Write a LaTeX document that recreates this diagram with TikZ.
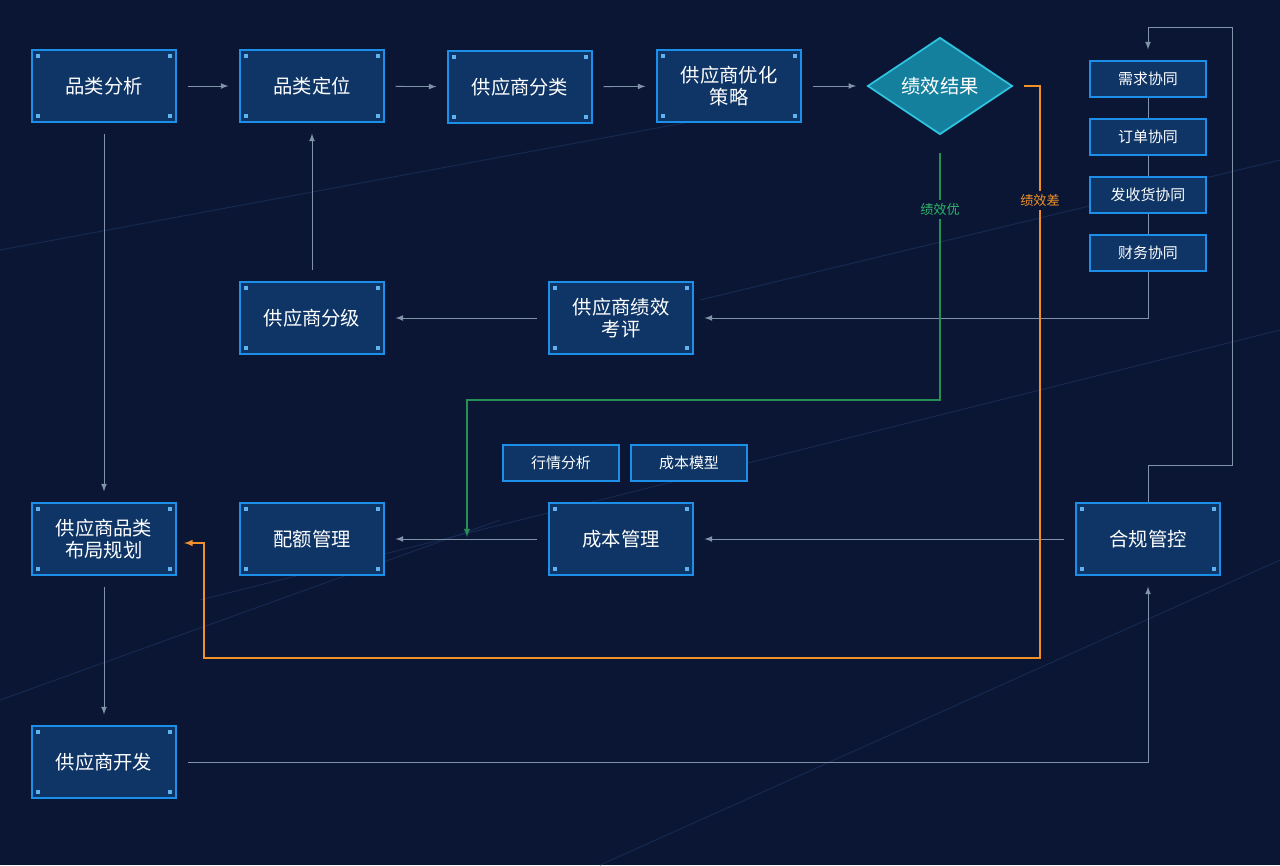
\documentclass[tikz,border=0pt]{standalone}
\usepackage{fontspec}
\setmainfont{Noto Sans CJK SC}
\usetikzlibrary{shapes.geometric,positioning}
\definecolor{bgblue}{HTML}{0A1633}
\definecolor{streak}{HTML}{16284F}
\definecolor{boxfill}{HTML}{0E3566}
\definecolor{boxline}{HTML}{1C8FE8}
\definecolor{linkgray}{HTML}{8193A8}
\definecolor{goodgreen}{HTML}{2FB36B}
\definecolor{badorange}{HTML}{F0902A}
\definecolor{resfill}{HTML}{15809E}
\definecolor{resline}{HTML}{2EC4E0}
\begin{document}
\begin{tikzpicture}
[
 x=0.02cm, y=-0.02cm,
 >={latex},
 align=center,
 inner sep=1mm,
 text=white,
 box/.style={draw=boxline,line width=1.2pt,fill=boxfill,rectangle,minimum width=2.88cm,minimum height=1.44cm,font=\fontsize{11}{13}\selectfont,
  path picture={
   \fill[boxline!70!white] ([shift={(2pt,-2pt)}]path picture bounding box.north west) rectangle ++(2.5pt,-2.5pt);
   \fill[boxline!70!white] ([shift={(-2pt,-2pt)}]path picture bounding box.north east) rectangle ++(-2.5pt,-2.5pt);
   \fill[boxline!70!white] ([shift={(2pt,2pt)}]path picture bounding box.south west) rectangle ++(2.5pt,2.5pt);
   \fill[boxline!70!white] ([shift={(-2pt,2pt)}]path picture bounding box.south east) rectangle ++(-2.5pt,2.5pt);}},
 small/.style={draw=boxline,line width=1.2pt,fill=boxfill,rectangle,minimum width=2.32cm,minimum height=0.72cm,font=\fontsize{8.5}{10}\selectfont},
 result/.style={draw=resline,line width=1pt,fill=resfill,diamond,aspect=1.5,minimum width=2.9cm,minimum height=1.94cm,inner sep=0pt,font=\fontsize{11}{13}\selectfont},
 link/.style={draw=linkgray,line width=0.5pt},
 tag/.style={fill=bgblue,font=\fontsize{7.5}{9}\selectfont,inner sep=2pt}
]
\fill[bgblue] (0,0) rectangle (1280,865);
\useasboundingbox (0,0) rectangle (1280,865);
% faint background streaks
\foreach \a/\b/\c/\d in {0/250/700/120, 200/600/1280/330, 600/865/1280/560, 0/700/500/520, 700/300/1280/160}
 \draw[streak,line width=0.6pt] (\a,\b) -- (\c,\d);

\node (cat-ana) [box] at (104,86) {品类分析};
\node (cat-pos) [box] at (312,86) {品类定位};
\node (sup-cls) [box] at (520,87) {供应商分类};
\node (sup-opt) [box] at (729,86) {供应商优化\\策略};
\node (perf) [result] at (940,86) {绩效结果};
\node (demand) [small] at (1148,79) {需求协同};
\node (order) [small] at (1148,137) {订单协同};
\node (ship) [small] at (1148,195) {发收货协同};
\node (finance) [small] at (1148,253) {财务协同};
\node (sup-lvl) [box] at (312,318) {供应商分级};
\node (sup-eval) [box] at (621,318) {供应商绩效\\考评};
\node (market) [small] at (561,463) {行情分析};
\node (costmod) [small] at (689,463) {成本模型};
\node (layout) [box] at (104,539) {供应商品类\\布局规划};
\node (quota) [box] at (312,539) {配额管理};
\node (cost) [box] at (621,539) {成本管理};
\node (comply) [box] at (1148,539) {合规管控};
\node (sup-dev) [box] at (104,762) {供应商开发};

\draw[link,->,shorten <=6pt,shorten >=6pt] (cat-ana) -- (cat-pos);
\draw[link,->,shorten <=6pt,shorten >=6pt] (cat-pos) -- (sup-cls);
\draw[link,->,shorten <=6pt,shorten >=6pt] (sup-cls) -- (sup-opt);
\draw[link,->,shorten <=6pt,shorten >=6pt] (sup-opt) -- (perf);
\draw[link,->,shorten <=6pt,shorten >=6pt] (cat-ana) -- (layout);
\draw[link,->,shorten <=6pt,shorten >=6pt] (layout) -- (sup-dev);
\draw[link,->,shorten <=6pt] (sup-dev) -| ([yshift=-6pt]comply.south);
\draw[link] (demand) -- (order);
\draw[link] (order) -- (ship);
\draw[link] (ship) -- (finance);
\draw[link,->,shorten >=6pt] (finance) |- (sup-eval);
\draw[link,->,shorten <=6pt,shorten >=6pt] (sup-eval) -- (sup-lvl);
\draw[link,->,shorten <=6pt,shorten >=6pt] (sup-lvl) -- (cat-pos);
\draw[link,->,shorten <=6pt,shorten >=6pt] (comply) -- (cost);
\draw[link,->,shorten <=6pt,shorten >=6pt] (cost) -- (quota);
\coordinate (loop-a) at (1232,465);
\coordinate (loop-b) at (1232,27);
\draw[link,->,shorten >=6pt] (comply.north) |- (loop-a) -- (loop-b) -| (demand.north);

\coordinate (good-turn) at (940,400);
\coordinate (good-end) at (467,537);
\draw[draw=goodgreen!80!black,line width=0.6pt,->] ([yshift=-10pt]perf.south) -- node [tag,text=goodgreen,pos=0.23] {绩效优} (good-turn) -| (good-end);
\coordinate (bad-turn) at (1040,658);
\coordinate (bad-back) at (204,543);
\coordinate (bad-end) at (184,543);
\draw[draw=badorange,line width=0.7pt,->] ([xshift=6pt]perf.east) -| node [tag,text=badorange,pos=0.6] {绩效差} (bad-turn) -| (bad-back) -- (bad-end);
\end{tikzpicture}
\end{document}
